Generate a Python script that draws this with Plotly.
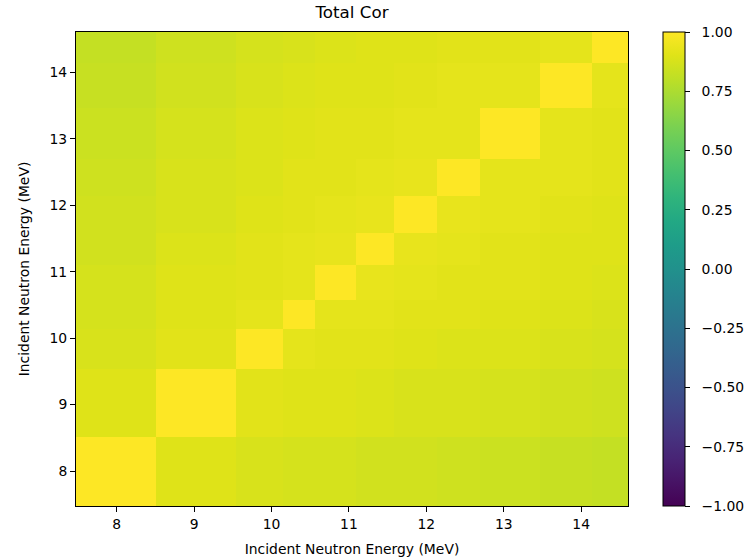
import plotly.graph_objects as go

# Energy bin edges (MeV), shared by both axes
energy_edges = [7.474, 8.507, 9.537, 10.142, 10.567, 11.093, 11.588,
                12.135, 12.696, 13.468, 14.139, 14.605]

# Correlation matrix of the total cross section between energy bins
total_cor = [
    [1.00, 0.90, 0.88, 0.87, 0.87, 0.86, 0.86, 0.85, 0.84, 0.83, 0.82],
    [0.90, 1.00, 0.91, 0.90, 0.90, 0.89, 0.88, 0.88, 0.87, 0.86, 0.85],
    [0.88, 0.91, 1.00, 0.92, 0.91, 0.91, 0.90, 0.89, 0.89, 0.88, 0.87],
    [0.87, 0.90, 0.92, 1.00, 0.92, 0.92, 0.91, 0.91, 0.90, 0.89, 0.88],
    [0.87, 0.90, 0.91, 0.92, 1.00, 0.93, 0.92, 0.91, 0.91, 0.90, 0.89],
    [0.86, 0.89, 0.91, 0.92, 0.93, 1.00, 0.93, 0.92, 0.91, 0.90, 0.90],
    [0.86, 0.88, 0.90, 0.91, 0.92, 0.93, 1.00, 0.93, 0.92, 0.91, 0.90],
    [0.85, 0.88, 0.89, 0.91, 0.91, 0.92, 0.93, 1.00, 0.92, 0.92, 0.91],
    [0.84, 0.87, 0.89, 0.90, 0.91, 0.91, 0.92, 0.92, 1.00, 0.92, 0.91],
    [0.83, 0.86, 0.88, 0.89, 0.90, 0.90, 0.91, 0.92, 0.92, 1.00, 0.92],
    [0.82, 0.85, 0.87, 0.88, 0.89, 0.90, 0.90, 0.91, 0.91, 0.92, 1.00],
]

energy_ticks = [8, 9, 10, 11, 12, 13, 14]
cbar_ticks = [1.0, 0.75, 0.5, 0.25, 0.0, -0.25, -0.5, -0.75, -1.0]
cbar_labels = ["1.00", "0.75", "0.50", "0.25", "0.00",
               "\u22120.25", "\u22120.50", "\u22120.75", "\u22121.00"]

# matplotlib viridis sampled every 5%
viridis_hex = ["#440154", "#471365", "#482475", "#463480", "#414487",
               "#3b528b", "#355f8d", "#2f6c8e", "#2a788e", "#25848e",
               "#21918c", "#1e9c89", "#22a884", "#2fb47c", "#44bf70",
               "#5ec962", "#7ad151", "#9bd93c", "#bddf26", "#dfe318",
               "#fde725"]
colorscale = [[i / (len(viridis_hex) - 1), c] for i, c in enumerate(viridis_hex)]

W, H = 756, 558
ML, MR, MT, MB = 76, 128, 32, 52
plot_w = W - ML - MR
plot_h = H - MT - MB

font = "DejaVu Sans, sans-serif"
pad = "\u00a0\u00a0"  # gap between colorbar ticks and their labels

fig = go.Figure(go.Heatmap(
    x=energy_edges,
    y=energy_edges,
    z=total_cor,
    zmin=-1, zmax=1,
    colorscale=colorscale,
    colorbar=dict(
        thickness=22,
        thicknessmode="pixels",
        len=plot_h, lenmode="pixels",
        x=(663 - ML) / plot_w, xanchor="left", xref="paper",
        y=0, yanchor="bottom",
        outlinecolor="black", outlinewidth=1,
        ticks="outside", ticklen=5, tickwidth=1, tickcolor="black",
        tickvals=cbar_ticks, ticktext=[pad + t for t in cbar_labels],
        tickfont=dict(family=font, size=13.9, color="black"),
        xpad=0, ypad=0,
    ),
))

axis_common = dict(
    showgrid=False, zeroline=False, automargin=False,
    ticks="outside", ticklen=5, tickwidth=1, tickcolor="black",
    showline=True, linecolor="black", linewidth=1, mirror=True,
    tickfont=dict(family=font, size=13.9, color="black"),
    tickmode="array", tickvals=energy_ticks,
)

fig.update_layout(
    width=W, height=H,
    margin=dict(l=ML, r=MR, t=MT, b=MB, autoexpand=False),
    paper_bgcolor="white", plot_bgcolor="white",
    title=dict(text="Total Cor", x=(ML + plot_w / 2) / W, xanchor="center",
               y=1 - 12 / H, yanchor="middle",
               font=dict(family=font, size=16.7, color="black")),
    xaxis=dict(axis_common, range=[energy_edges[0], energy_edges[-1]],
               title=dict(text="Incident Neutron Energy (MeV)", standoff=13,
                          font=dict(family=font, size=13.9, color="black"))),
    yaxis=dict(axis_common, range=[energy_edges[0], energy_edges[-1]],
               title=dict(text="Incident Neutron Energy (MeV)", standoff=16,
                          font=dict(family=font, size=13.9, color="black"))),
)

fig.write_html("out.html")
